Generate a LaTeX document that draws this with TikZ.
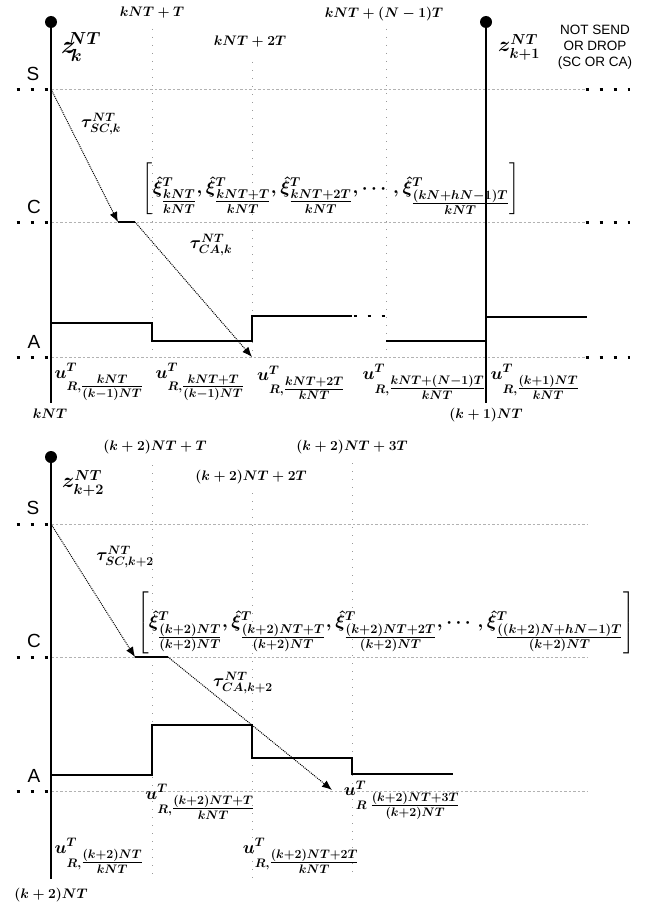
\RequirePackage{fix-cm}
\documentclass[tikz,border=0pt]{standalone}
\usepackage{amsmath}
\usepackage{fontspec}
\newfontfamily\arialfont{Liberation Sans}
\usetikzlibrary{arrows.meta}
\newcommand{\subfr}[2]{\genfrac{}{}{}{1}{#1}{#2}}

\begin{document}
\begin{tikzpicture}[
  x=1pt, y=-1pt,
  every node/.style={font=\fontsize{13.8}{16}\selectfont\boldmath, inner sep=0pt},
  bigmath/.style={font=\fontsize{18.2}{21}\selectfont\boldmath},
  ulbl/.style={font=\fontsize{17.6}{20}\selectfont\boldmath},
  taulbl/.style={font=\fontsize{17.3}{20}\selectfont\boldmath},
  zlbl/.style={font=\fontsize{20.7}{24}\selectfont\boldmath},
  level/.style={font=\arialfont\fontsize{19}{22}\selectfont},
  note/.style={font=\arialfont\fontsize{13.5}{16}\selectfont, align=center},
  axisline/.style={line width=1.4pt},
  gridline/.style={gray!60, line width=0.5pt, dash pattern=on 2.5pt off 2pt},
  tickline/.style={gray!80, line width=1pt, dash pattern=on 1pt off 7pt},
  stairline/.style={line width=1.1pt},
  moredots/.style={line width=3pt, dash pattern=on 3pt off 11pt},
  delay/.style={densely dotted, line width=1pt, -{Latex[length=10pt,width=8pt]}}
]
\useasboundingbox (0,0) rectangle (657,907);

% ---- upper panel: frame k
\coordinate (top1) at (51,22);
\coordinate (bot1) at (51,403);
\coordinate (top2) at (486,22);
\coordinate (bot2) at (486,403);
\coordinate (S1) at (51,89);
\coordinate (C1) at (51,222);
\coordinate (A1) at (51,357);

\draw[gridline] (S1) -- (587,89);
\draw[gridline] (C1) -- (587,222);
\draw[gridline] (A1) -- (587,357);
\draw[tickline] (152,29) -- (152,357);
\draw[tickline] (252,62) -- (252,357);
\draw[tickline] (386,29) -- (386,357);
\foreach \y in {89,222,357} {
  \draw[moredots] (16.5,\y) -- (49,\y);
  \draw[moredots] (585.5,\y) -- (630,\y);
}

\draw[axisline] (top1) -- (bot1);
\fill (top1) circle (6pt);
\draw[axisline] (top2) -- (bot2);
\fill (top2) circle (6pt);

\draw[stairline] (51,323) -| (152,341) -| (252,316) -- (352,316);
\draw[moredots, line width=2.5pt] (353.5,316) -- (386,316);
\draw[stairline] (386,341) -- (486,341);
\draw[stairline] (486,317) -- (587,317);

\coordinate (c1in) at (118,222);
\coordinate (c1out) at (135,222);
\coordinate (a1in) at (252,357);
\draw[delay] (S1) -- (c1in);
\draw[stairline] (c1in) -- (c1out);
\draw[delay] (c1out) -- (a1in);

\node[level] (s1) at (33,74) {S};
\node[level] (c1) at (34,207) {C};
\node[level] (a1) at (34,342) {A};
\node (t11) at (152,13) {$kNT+T$};
\node (t12) at (250,42) {$kNT+2T$};
\node (t13) at (384,14) {$kNT+(N-1)T$};
\node[zlbl, font=\fontsize{24.9}{28}\selectfont\boldmath] (z1) at (81,47) {$z^{\hspace{-8pt}NT}_{\hspace{-4pt}k}$};
\node[zlbl] (z2) at (519,47) {$z^{NT}_{k+1}$};
\node[note] (skip) at (595,47) {NOT SEND\\OR DROP\\(SC OR CA)};
\node[taulbl] (tsc1) at (101,124) {$\tau^{NT}_{SC,k}$};
\node[taulbl] (tca1) at (211,245) {$\tau^{NT}_{CA,k}$};
\node[bigmath] (xi1) at (331,189) {$\left[\hat{\xi}^{T}_{\subfr{kNT}{kNT}}, \hat{\xi}^{T}_{\subfr{kNT+T}{kNT}}, \hat{\xi}^{T}_{\subfr{kNT+2T}{kNT}}, \cdots, \hat{\xi}^{T}_{\subfr{(kN+hN-1)T}{kNT}}\right]$};
\node[ulbl] (u11) at (99,382) {$u^{T}_{R,\subfr{kNT}{(k-1)NT}}$};
\node[ulbl] (u12) at (200,382) {$u^{T}_{R,\subfr{kNT+T}{(k-1)NT}}$};
\node[ulbl] (u13) at (301,383) {$u^{T}_{R,\subfr{kNT+2T}{kNT}}$};
\node[ulbl] (u14) at (424,382) {$u^{T}_{R,\subfr{kNT+(N-1)T}{kNT}}$};
\node[ulbl] (u15) at (535,382) {$u^{T}_{R,\subfr{(k+1)NT}{kNT}}$};
\node (k1) at (50,414) {$kNT$};
\node (k2) at (486,415) {$(k+1)NT$};

% ---- lower panel: frame k+2
\coordinate (top3) at (51,457);
\coordinate (bot3) at (51,879);
\coordinate (S3) at (51,524);
\coordinate (C3) at (51,657);
\coordinate (A3) at (51,791);

\draw[gridline] (S3) -- (587,524);
\draw[gridline] (C3) -- (587,657);
\draw[gridline] (A3) -- (587,791);
\draw[tickline] (152,465) -- (152,875);
\draw[tickline] (252,493) -- (252,880);
\draw[tickline] (352,463) -- (352,875);
\foreach \y in {524,657,791}
  \draw[moredots] (16.5,\y) -- (49,\y);

\draw[axisline] (top3) -- (bot3);
\fill (top3) circle (6pt);

\draw[stairline] (51,775) -| (152,725) -| (252,758) -| (352,774) -- (453,774);

\coordinate (c3in) at (135,657);
\coordinate (c3out) at (168,657);
\coordinate (a3in) at (332,790);
\draw[delay] (S3) -- (c3in);
\draw[stairline] (c3in) -- (c3out);
\draw[delay] (c3out) -- (a3in);

\node[level] (s3) at (33,508) {S};
\node[level] (c3) at (34,641) {C};
\node[level] (a3) at (34,776) {A};
\node (t31) at (155,447) {$(k+2)NT+T$};
\node (t32) at (251,477) {$(k+2)NT+2T$};
\node (t33) at (352,447) {$(k+2)NT+3T$};
\node[zlbl] (z3) at (83,483) {$z^{NT}_{k+2}$};
\node[taulbl] (tsc3) at (125,557) {$\tau^{NT}_{SC,k+2}$};
\node[taulbl] (tca3) at (243,683) {$\tau^{NT}_{CA,k+2}$};
\node[bigmath] (xi3) at (386,623) {$\left[\hat{\xi}^{T}_{\subfr{(k+2)NT}{(k+2)NT}}, \hat{\xi}^{T}_{\subfr{(k+2)NT+T}{(k+2)NT}}, \hat{\xi}^{T}_{\subfr{(k+2)NT+2T}{(k+2)NT}}, \cdots, \hat{\xi}^{T}_{\subfr{((k+2)N+hN-1)T}{(k+2)NT}}\right]$};
\node[ulbl] (u31) at (99,856) {$u^{T}_{R,\subfr{(k+2)NT}{kNT}}$};
\node[ulbl] (u32) at (200,802) {$u^{T}_{R,\subfr{(k+2)NT+T}{kNT}}$};
\node[ulbl] (u33) at (301,856) {$u^{T}_{R,\subfr{(k+2)NT+2T}{kNT}}$};
\node[ulbl] (u34) at (402,800) {$u^{T}_{R\;\subfr{(k+2)NT+3T}{(k+2)NT}}$};
\node (k3) at (51,895) {$(k+2)NT$};
\end{tikzpicture}
\end{document}
